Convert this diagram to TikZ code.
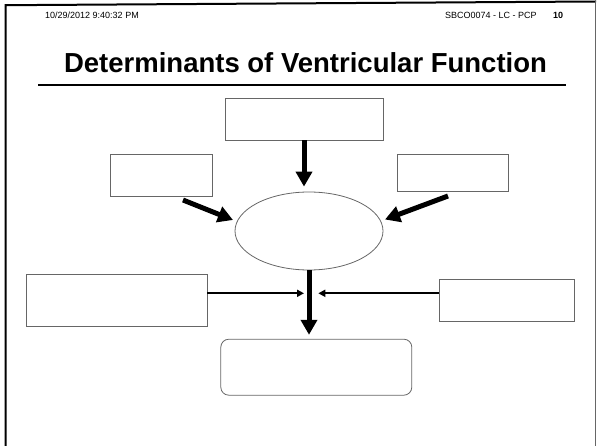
\documentclass[tikz,border=0pt]{standalone}
\usepackage{fontspec}
\setmainfont{Liberation Sans}
\usetikzlibrary{arrows.meta,shapes.geometric}
\tikzset{
  boxshape/.style={draw=black!60, line width=0.8pt, inner sep=0pt},
  fatarrow/.style={line width=5pt, -{Triangle[length=15pt,width=16pt]}},
  thinarrow/.style={line width=2pt, -{Triangle[length=7pt,width=7pt]}},
  hdr/.style={inner sep=0pt, anchor=base west, font=\fontsize{9}{10}\selectfont}
}
\begin{document}
\begin{tikzpicture}[x=1pt,y=-1pt]
\useasboundingbox (0,0) rectangle (597,446);
% page frame
\draw[line width=2pt] (5.7,446) -- (5.7,5.2) -- (596,1.5);
\draw[black!60, line width=1.3pt] (595.5,1.5) -- (595.5,446);
% header
\node[hdr] (date) at (45,18.5) {10/29/2012 9:40:32 PM};
\node[hdr] (code) at (445,18.5) {SBCO0074 - LC - PCP};
\node[hdr, font=\fontsize{9}{10}\selectfont\bfseries] (pg) at (553,18.5) {10};
% title
\node[inner sep=0pt, anchor=base, font=\fontsize{27.5}{30}\selectfont\bfseries] (title) at (305.5,73) {Determinants of Ventricular Function};
\draw[line width=2.5pt] (38,85) -- (566,85);
% boxes
\node[boxshape, minimum width=158pt, minimum height=42pt] (top) at (304,119) {};
\node[boxshape, minimum width=102pt, minimum height=42pt] (lb) at (161,175) {};
\node[boxshape, minimum width=111pt, minimum height=37pt] (rbx) at (452.5,172.5) {};
\node[boxshape, ellipse, minimum width=148pt, minimum height=78pt] (ell) at (309,231) {};
\node[boxshape, minimum width=181pt, minimum height=52pt] (bl) at (116.5,300) {};
\node[boxshape, minimum width=135pt, minimum height=42pt] (br) at (506.5,300) {};
\node[boxshape, rounded corners=8pt, minimum width=191pt, minimum height=56pt] (res) at (316.3,367.2) {};
% connectors
\coordinate (la) at (183,200);
\coordinate (lt) at (233,220);
\coordinate (ra) at (448,196);
\coordinate (rt) at (385,219.5);
\coordinate (j) at (309,293.3);
\draw[fatarrow, shorten >=5pt] (top.south) -- (top.south |- ell.north);
\draw[fatarrow] (la) -- (lt);
\draw[fatarrow] (ra) -- (rt);
\draw[fatarrow, shorten >=4pt] (ell.south) -- (ell.south |- res.north);
\draw[thinarrow, shorten >=5pt] (bl.east |- j) -- (j);
\draw[thinarrow, shorten >=9.3pt] (br.west |- j) -- (j);
\end{tikzpicture}
\end{document}
